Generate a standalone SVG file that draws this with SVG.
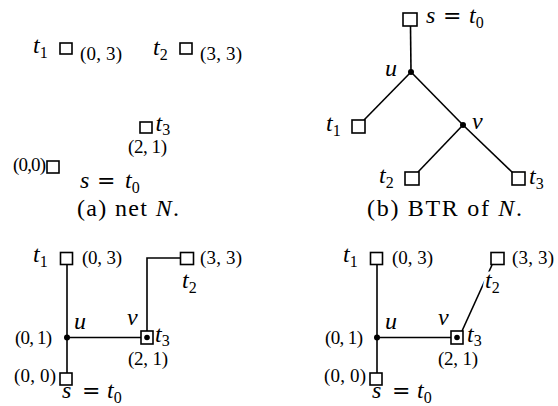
<svg xmlns="http://www.w3.org/2000/svg" width="558" height="406" viewBox="0 0 558 406">
<style>
.ln{stroke:#000;stroke-width:1.6;fill:none}
.sq{fill:#fff;stroke:#000;stroke-width:1.6}
.dot{fill:#000}
.m{font-family:"Liberation Serif",serif;font-style:italic;font-size:24px;fill:#000}
.sub{font-size:16px;font-style:normal}
.eq{font-family:"DejaVu Sans",sans-serif;font-style:normal;font-size:22px}
.c{font-family:"Liberation Serif",serif;font-size:19px;fill:#000}
.cap{font-family:"Liberation Serif",serif;font-size:24px;fill:#000}
.halo{stroke:#fff;stroke-width:6;paint-order:stroke;stroke-linejoin:round}
</style>
<rect width="558" height="406" fill="#fff"/>

<!-- Panel (a): net N -->
<g id="a-t1">
  <rect class="sq" x="60" y="43" width="12" height="11"/>
  <text class="m" x="33" y="53" font-size="22">t<tspan class="sub" dy="5">1</tspan></text>
  <text class="c" x="80" y="60" textLength="42" lengthAdjust="spacing">(0, 3)</text>
</g>
<g id="a-t2">
  <rect class="sq" x="180" y="43" width="12" height="11"/>
  <text class="m" x="153" y="55" font-size="22">t<tspan class="sub" dy="5">2</tspan></text>
  <text class="c" x="200" y="60" textLength="42" lengthAdjust="spacing">(3, 3)</text>
</g>
<g id="a-t3">
  <rect class="sq" x="140" y="122" width="12" height="11"/>
  <text class="m" x="155.5" y="131">t<tspan class="sub" dy="4">3</tspan></text>
  <text class="c" x="128" y="153" textLength="39" lengthAdjust="spacing">(2, 1)</text>
</g>
<g id="a-s">
  <rect class="sq" x="47" y="161" width="12" height="12"/>
  <text class="c" x="13" y="171" textLength="33" lengthAdjust="spacing">(0,0)</text>
  <text class="m" x="80" y="188" font-size="26">s<tspan class="eq" x="97" font-size="24">=</tspan><tspan x="125">t</tspan><tspan class="sub" dy="5" font-size="17">0</tspan></text>
</g>
<text id="cap-a" class="cap" x="77" y="216" textLength="102" lengthAdjust="spacing">(a) net <tspan font-style="italic">N</tspan>.</text>

<!-- Panel (b): BTR of N -->
<g id="b-connectors">
  <line class="ln" x1="410.5" y1="26" x2="411" y2="72"/>
  <line class="ln" x1="411" y1="72" x2="364" y2="120"/>
  <line class="ln" x1="411" y1="72" x2="463" y2="125"/>
  <line class="ln" x1="463" y1="125" x2="418" y2="172"/>
  <line class="ln" x1="463" y1="125" x2="513" y2="173"/>
</g>
<g id="b-s">
  <rect class="sq" x="403" y="13" width="14" height="13"/>
  <text class="m" x="426" y="23">s<tspan class="eq" x="443">=</tspan><tspan x="469">t</tspan><tspan class="sub" dy="5">0</tspan></text>
</g>
<g id="b-u">
  <circle class="dot" cx="411" cy="72" r="3"/>
  <text class="m" x="385" y="76">u</text>
</g>
<g id="b-v">
  <circle class="dot" cx="463" cy="125" r="3"/>
  <text class="m" x="472" y="129">v</text>
</g>
<g id="b-t1">
  <rect class="sq" x="352" y="120" width="13" height="13"/>
  <text class="m" x="326" y="131">t<tspan class="sub" dy="5">1</tspan></text>
</g>
<g id="b-t2">
  <rect class="sq" x="405" y="172" width="14" height="13"/>
  <text class="m" x="379" y="183">t<tspan class="sub" dy="5">2</tspan></text>
</g>
<g id="b-t3">
  <rect class="sq" x="512" y="172" width="13" height="13"/>
  <text class="m" x="529" y="184">t<tspan class="sub" dy="5">3</tspan></text>
</g>
<text id="cap-b" class="cap" x="367" y="216" textLength="155" lengthAdjust="spacing">(b) BTR of <tspan font-style="italic">N</tspan>.</text>

<!-- Bottom-left -->
<g id="c-connectors">
  <line class="ln" x1="67" y1="264" x2="67" y2="373"/>
  <line class="ln" x1="67" y1="337.5" x2="141" y2="337.5"/>
  <polyline class="ln" points="147,331 147,258 180,258"/>
</g>
<g id="c-t1">
  <rect class="sq" x="60.5" y="252.5" width="12" height="12"/>
  <text class="m" x="33" y="262">t<tspan class="sub" dy="5">1</tspan></text>
  <text class="c" x="82" y="264" textLength="40" lengthAdjust="spacing">(0, 3)</text>
</g>
<g id="c-u">
  <circle class="dot" cx="67" cy="337.5" r="3"/>
  <text class="m" x="74" y="329">u</text>
  <text class="c" x="15" y="344" textLength="37" lengthAdjust="spacing">(0, 1)</text>
</g>
<g id="c-t3">
  <rect class="sq" x="141" y="331" width="12" height="13"/>
  <circle class="dot" cx="147" cy="337.5" r="2.8"/>
  <text class="m" x="127" y="325">v</text>
  <text class="m" x="155" y="342">t<tspan class="sub" dy="4">3</tspan></text>
  <text class="c" x="128" y="365" textLength="40" lengthAdjust="spacing">(2, 1)</text>
</g>
<g id="c-t2">
  <rect class="sq" x="180.5" y="252.5" width="13" height="12"/>
  <text class="c" x="200" y="264" textLength="42" lengthAdjust="spacing">(3, 3)</text>
  <text class="m" x="182" y="288">t<tspan class="sub" dy="5">2</tspan></text>
</g>
<g id="c-s">
  <rect class="sq" x="60" y="373" width="12" height="12"/>
  <text class="c" x="14" y="382" textLength="42" lengthAdjust="spacing">(0, 0)</text>
  <text class="m" x="62" y="398">s<tspan class="eq" x="82">=</tspan><tspan x="107">t</tspan><tspan class="sub" dy="5">0</tspan></text>
</g>

<!-- Bottom-right -->
<g id="d-connectors">
  <line class="ln" x1="377" y1="264" x2="377" y2="373"/>
  <line class="ln" x1="377" y1="337.5" x2="451" y2="337.5"/>
  <line class="ln" x1="462" y1="331" x2="492" y2="265"/>
</g>
<g id="d-t1">
  <rect class="sq" x="370.5" y="252.5" width="12" height="12"/>
  <text class="m" x="343" y="262">t<tspan class="sub" dy="5">1</tspan></text>
  <text class="c" x="392" y="264" textLength="41" lengthAdjust="spacing">(0, 3)</text>
</g>
<g id="d-u">
  <circle class="dot" cx="377" cy="337.5" r="3"/>
  <text class="m" x="385" y="329">u</text>
  <text class="c" x="325" y="344" textLength="38" lengthAdjust="spacing">(0, 1)</text>
</g>
<g id="d-t3">
  <rect class="sq" x="451" y="331" width="12" height="13"/>
  <circle class="dot" cx="457" cy="337.5" r="2.8"/>
  <text class="m" x="438" y="325">v</text>
  <text class="m" x="467" y="342">t<tspan class="sub" dy="4">3</tspan></text>
  <text class="c" x="438" y="365" textLength="40" lengthAdjust="spacing">(2, 1)</text>
</g>
<g id="d-t2">
  <rect class="sq" x="491" y="252.5" width="13" height="12"/>
  <text class="c" x="512" y="264" textLength="42" lengthAdjust="spacing">(3, 3)</text>
  <text class="m halo" x="485" y="288">t<tspan class="sub" dy="5">2</tspan></text>
</g>
<g id="d-s">
  <rect class="sq" x="370" y="373" width="12" height="12"/>
  <text class="c" x="324" y="382" textLength="42" lengthAdjust="spacing">(0, 0)</text>
  <text class="m" x="372" y="398">s<tspan class="eq" x="392">=</tspan><tspan x="417">t</tspan><tspan class="sub" dy="5">0</tspan></text>
</g>
</svg>
